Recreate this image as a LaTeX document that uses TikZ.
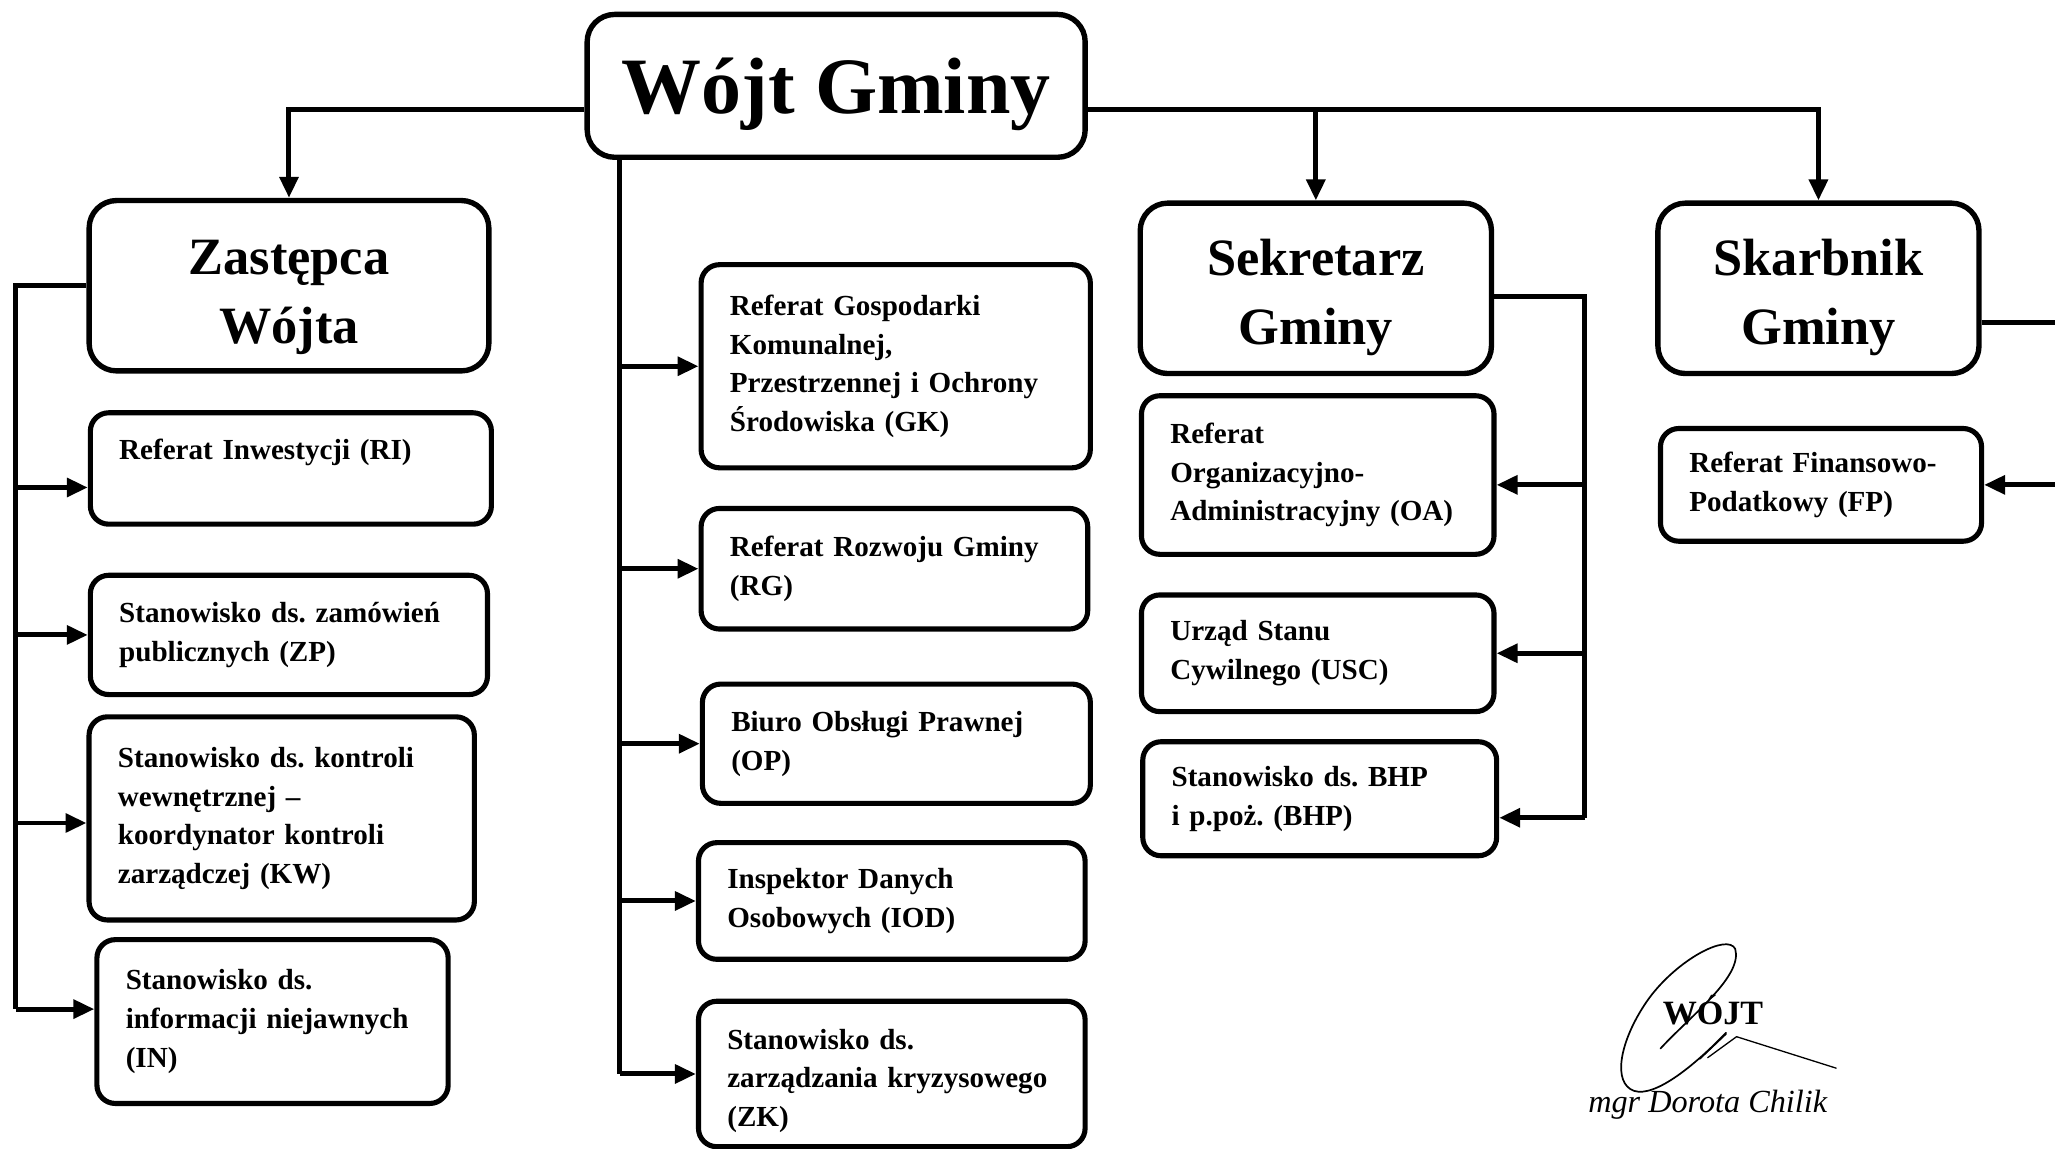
\documentclass[tikz,border=0pt]{standalone}
\usepackage{fontspec}
\setmainfont{Liberation Serif}
\usetikzlibrary{arrows.meta}
\frenchspacing
\begin{document}
\begin{tikzpicture}[x=1pt,y=-1pt,
  box/.style={draw, line width=3.9pt, rounded corners=14pt, align=left, anchor=north west,
    inner xsep=22pt, inner ysep=0pt, font=\fontsize{22.2}{29.5}\selectfont\bfseries\frenchspacing},
  head/.style={draw, line width=4.1pt, rounded corners=21pt, align=center, inner sep=0pt,
    font=\fontsize{40}{53}\selectfont\bfseries},
  conn/.style={line width=3.8pt},
  arr/.style={conn, -{Triangle[length=16pt,width=14pt]}},
  sig/.style={line width=1.3pt, line cap=round, line join=round}
]
\useasboundingbox (0,0) rectangle (1568,876);
\fill[white] (0,0) rectangle (1568,876);

% head boxes
\node[head, minimum width=380pt, minimum height=109pt, font=\fontsize{61}{70}\selectfont\bfseries] (wojt) at (638,65.5) {\rule{0pt}{56pt}Wójt Gminy};
\node[head, minimum width=305pt, minimum height=130pt] (zast) at (220.5,218) {\rule{0pt}{44pt}Zastępca\\Wójta};
\node[head, minimum width=268pt, minimum height=130pt] (sekr) at (1004,220) {\rule{0pt}{42pt}Sekretarz\\Gminy};
\node[head, minimum width=245pt, minimum height=130pt] (skarb) at (1387.5,220) {\rule{0pt}{42pt}Skarbnik\\Gminy};

% left column
\node[box, text width=262pt, minimum height=85pt] (ri) at (67,313) {Referat Inwestycji (RI)\\\mbox{}};
\node[box, text width=259pt, minimum height=91pt] (zp) at (67,437) {Stanowisko ds. zamówień\\publicznych (ZP)};
\node[box, text width=250pt, minimum height=155pt] (kw) at (66,545) {Stanowisko ds. kontroli\\wewnętrznej --\\koordynator kontroli\\zarządczej (KW)};
\node[box, text width=224pt, minimum height=125pt] (in) at (72,715) {Stanowisko ds.\\informacji niejawnych\\(IN)};

% middle column
\node[box, text width=253pt, minimum height=155pt] (gk) at (533,200) {Referat Gospodarki\\Komunalnej,\\Przestrzennej i Ochrony\\Środowiska (GK)};
\node[box, text width=251pt, minimum height=92pt] (rg) at (533,386) {Referat Rozwoju Gminy\\(RG)};
\node[box, text width=252pt, minimum height=91pt] (op) at (534,520) {Biuro Obsługi Prawnej\\(OP)};
\node[box, text width=251pt, minimum height=89pt] (iod) at (531,641) {Inspektor Danych\\Osobowych (IOD)};
\node[box, text width=251pt, minimum height=111pt] (zk) at (531,762) {\rule{0pt}{26pt}Stanowisko ds.\\zarządzania kryzysowego\\(ZK)};

% sekretarz column
\node[box, text width=225pt, minimum height=121pt] (oa) at (869,300) {Referat\\Organizacyjno-\\Administracyjny (OA)};
\node[box, text width=225pt, minimum height=89pt] (usc) at (869,452) {Urząd Stanu\\Cywilnego (USC)};
\node[box, text width=226pt, minimum height=87pt] (bhp) at (870,564) {Stanowisko ds. BHP\\i p.poż. (BHP)};

% skarbnik column
\node[box, text width=201pt, minimum height=86pt] (fp) at (1265,325) {Referat Finansowo-\\Podatkowy (FP)};

% top connectors
\coordinate (wl) at ([yshift=-18pt]wojt.west);
\coordinate (wr) at ([yshift=-18pt]wojt.east);
\draw[arr] (wl) -| (zast.north);
\draw[arr] (wr) -| (skarb.north);
\draw[arr] (wr -| sekr.north) -- (sekr.north);

% middle bus
\coordinate (mb) at ([xshift=27pt]wojt.south west);
\draw[conn] (mb) -- (mb |- zk.west);
\foreach \n in {gk,rg,op,iod,zk} \draw[arr] (mb |- \n.west) -- (\n.west);

% left bus
\coordinate (lb) at (12,218);
\coordinate (riw) at ([yshift=-14.5pt]ri.west);
\coordinate (kww) at ([yshift=-3.5pt]kw.west);
\coordinate (inw) at ([yshift=9.5pt]in.west);
\draw[conn] (zast.west) -- (lb) -- (lb |- inw);
\draw[arr] (lb |- riw) -- (riw);
\draw[arr] (lb |- zp.west) -- (zp.west);
\draw[arr] (lb |- kww) -- (kww);
\draw[arr] (lb |- inw) -- (inw);

% sekretarz bus
\coordinate (sr) at ([shift={(69pt,-6pt)}]sekr.east);
\coordinate (oae) at ([yshift=-7.5pt]oa.east);
\coordinate (bhpe) at ([yshift=-14.5pt]bhp.east);
\draw[conn] (sekr.east |- sr) -- (sr) -- (sr |- bhpe);
\draw[arr] (sr |- oae) -- (oae);
\draw[arr] (sr |- usc.east) -- (usc.east);
\draw[arr] (sr |- bhpe) -- (bhpe);

% skarbnik bus
\coordinate (kr) at ([shift={(70pt,-26pt)}]skarb.east);
\draw[conn] (skarb.east |- kr) -- (kr) -- (kr |- fp.east);
\draw[arr] (kr |- fp.east) -- (fp.east);

% signature
\node[font=\fontsize{26}{30}\selectfont\bfseries] (stamp) at (1307,771) {WÓJT};
\node[font=\fontsize{24.6}{28}\selectfont\itshape] (name) at (1303,843) {mgr Dorota Chilik};
\draw[sig] (1267,800) .. controls (1290,775) and (1330,745) .. (1324,724)
  .. controls (1318,712) and (1280,732) .. (1258,762)
  .. controls (1238,790) and (1230,822) .. (1244,831)
  .. controls (1258,840) and (1288,818) .. (1317,788);
\draw[sig, line width=1pt] (1297,808) -- (1317,789);
\draw[sig, line width=1pt] (1303,807) -- (1325,791) -- (1401,815);
\end{tikzpicture}
\end{document}
